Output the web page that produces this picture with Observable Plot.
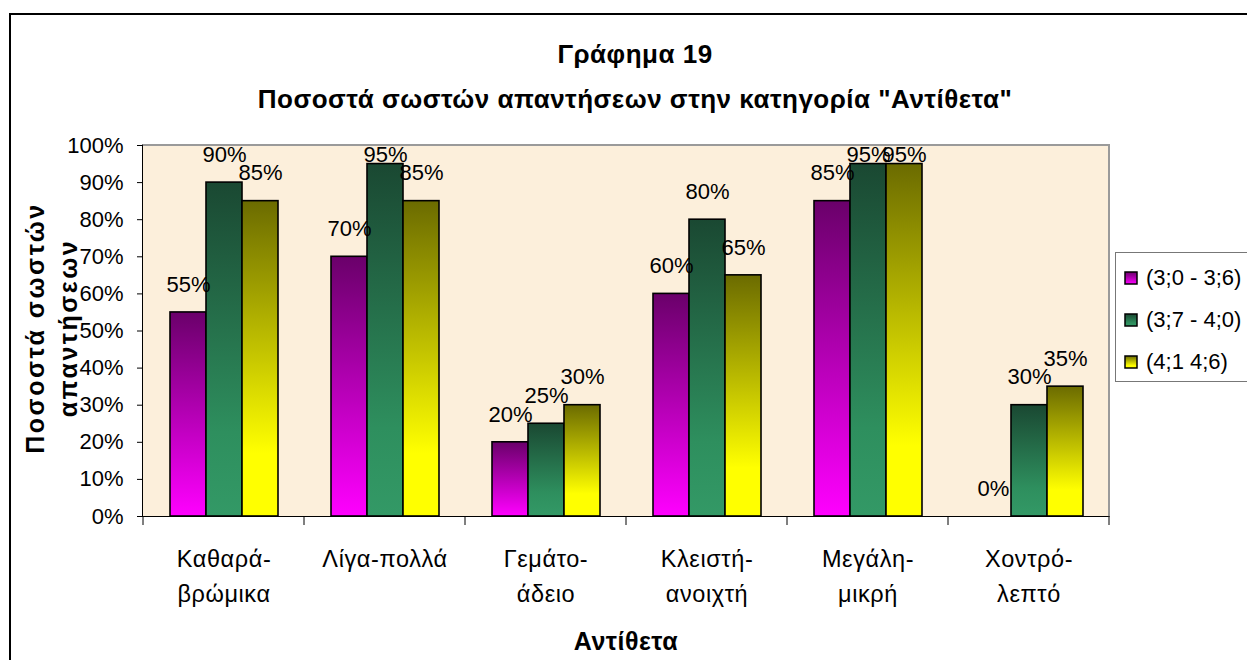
<!DOCTYPE html>
<html>
<head>
<meta charset="utf-8">
<script src="https://cdn.jsdelivr.net/npm/d3@7"></script>
<script src="https://cdn.jsdelivr.net/npm/@observablehq/plot@0.6"></script>
<style>
  html, body { margin: 0; padding: 0; background: #fff; }
  body { font-family: "Liberation Sans", Arial, sans-serif; color: #000; }
  #wrap { position: relative; width: 1247px; height: 660px; overflow: hidden; }
  #outer { position: absolute; left: 9px; top: 13px; width: 1400px; height: 800px;
           border-left: 2px solid #000; border-top: 2px solid #000; }
  #title { position: absolute; left: 0; width: 1270px; top: 32px; text-align: center;
           font-weight: bold; font-size: 26px; line-height: 45px; letter-spacing: 0.5px; }
  #bg { position: absolute; background: #FCEFDB; box-sizing: border-box;
        border-top: 2px solid #9a9a9a; border-right: 2px solid #9a9a9a;
        border-left: 1.5px solid #000; border-bottom: 1.5px solid #000; }
  #chart { position: absolute; left: 0; top: 0; }
  #chart svg g[aria-label="fx-axis tick label"] text { letter-spacing: 0.6px; }
  #ytitle { position: absolute; width: 400px; height: 70px; left: -146px; top: 293px;
            transform: rotate(-90deg); text-align: center; font-weight: bold;
            font-size: 25px; line-height: 33px; letter-spacing: 2.5px; }
  #xtitle { position: absolute; left: 526px; width: 200px; top: 627px; text-align: center;
            font-weight: bold; font-size: 25px; letter-spacing: 0.5px; }
  #legend { position: absolute; left: 1115px; top: 252px; width: 160px; height: 130px;
            border: 1.5px solid #777; box-sizing: border-box; font-size: 22px; }
  .li { position: absolute; left: 8px; height: 30px; display: flex; align-items: center; }
  .li svg { margin-right: 8px; }
</style>
</head>
<body>
<div id="wrap">
  <div id="outer"></div>
  <div id="bg"></div>
  <div id="chart"></div>
  <div id="title">Γράφημα 19<br>Ποσοστά σωστών απαντήσεων στην κατηγορία "Αντίθετα"</div>
  <div id="ytitle">Ποσοστά σωστών<br>απαντήσεων</div>
  <div id="xtitle">Αντίθετα</div>
  <div id="legend"></div>
</div>
<svg width="0" height="0" style="position:absolute">
  <defs>
    <linearGradient id="g0" x1="0" y1="0" x2="0" y2="1">
      <stop offset="0" stop-color="#6A006A"/><stop offset="1" stop-color="#FF00FF"/>
    </linearGradient>
    <linearGradient id="g1" x1="0" y1="0" x2="0" y2="1">
      <stop offset="0" stop-color="#1A4832"/><stop offset="0.75" stop-color="#2E8F5E"/><stop offset="1" stop-color="#339966"/>
    </linearGradient>
    <linearGradient id="g2" x1="0" y1="0" x2="0" y2="1">
      <stop offset="0" stop-color="#6B6B00"/><stop offset="0.8" stop-color="#FFFF00"/><stop offset="1" stop-color="#FFFF00"/>
    </linearGradient>
  </defs>
</svg>
<script>
const categories = ["Καθαρά-\nβρώμικα", "Λίγα-πολλά", "Γεμάτο-\nάδειο", "Κλειστή-\nανοιχτή", "Μεγάλη-\nμικρή", "Χοντρό-\nλεπτό"];
const series = ["(3;0 - 3;6)", "(3;7 - 4;0)", "(4;1 4;6)"];
const values_3_0_3_6 = [0.55, 0.70, 0.20, 0.60, 0.85, 0.00];
const values_3_7_4_0 = [0.90, 0.95, 0.25, 0.80, 0.95, 0.30];
const values_4_1_4_6 = [0.85, 0.85, 0.30, 0.65, 0.95, 0.35];
const yTicks = [0, 0.1, 0.2, 0.3, 0.4, 0.5, 0.6, 0.7, 0.8, 0.9, 1];
const gradients = ["url(#g0)", "url(#g1)", "url(#g2)"];

const seriesValues = [values_3_0_3_6, values_3_7_4_0, values_4_1_4_6];
const data = [];
categories.forEach((c, i) => series.forEach((s, j) => data.push({category: c, series: s, si: j, value: seriesValues[j][i]})));

const W = 1247, H = 660;
const mL = 143, mR = 138, mT = 145, mB = 144;

const chart = Plot.plot({
  width: W,
  height: H,
  marginLeft: mL,
  marginRight: mR,
  marginTop: mT,
  marginBottom: mB,
  style: {background: "transparent", color: "#000", fontFamily: "'Liberation Sans', Arial, sans-serif", fontSize: "22px"},
  fx: {domain: categories, padding: 0, label: null},
  x: {domain: series, paddingInner: 0, paddingOuter: 0.72, axis: null},
  y: {domain: [0, 1], ticks: yTicks, tickFormat: d3.format(".0%"), tickSize: 6, tickPadding: 14, label: null},
  marks: [
    Plot.axisFx({anchor: "bottom", tickSize: 0, tickPadding: 25, lineHeight: 1.5, fontSize: 23.5, label: null}),
    ...series.map((s, j) => Plot.barY(data.filter(d => d.si === j && d.value > 0), {
      fx: "category", x: "series", y: "value",
      fill: gradients[j], stroke: "#000", strokeWidth: 1.6
    })),
    Plot.text(data, {
      fx: "category", x: "series",
      y: d => Math.min(d.value + 0.075, 0.975),
      text: d => d3.format(".0%")(d.value),
      fontSize: 22, fill: "#000"
    })
  ]
});
document.getElementById("chart").appendChild(chart);

// background panel aligned to plot frame, from the library's scales
const yScale = chart.scale("y");
const fxScale = chart.scale("fx");
const frameTop = yScale.apply(1), frameBottom = yScale.apply(0);
const frameLeft = fxScale.apply(categories[0]);
const frameRight = fxScale.apply(categories[categories.length - 1]) + fxScale.bandwidth;
const bg = document.getElementById("bg");
bg.style.left = (frameLeft - 1) + "px";
bg.style.top = (frameTop - 1) + "px";
bg.style.width = (frameRight - frameLeft + 2) + "px";
bg.style.height = (frameBottom - frameTop + 2) + "px";

// category boundary ticks below the axis
const svgSel = d3.select(chart);
const edges = categories.map(c => fxScale.apply(c)).concat([frameRight]);
svgSel.append("g").selectAll("line").data(edges).join("line")
  .attr("x1", d => d).attr("x2", d => d)
  .attr("y1", frameBottom).attr("y2", frameBottom + 9)
  .attr("stroke", "#000").attr("stroke-width", 1);

// legend
const legend = document.getElementById("legend");
series.forEach((s, j) => {
  const row = document.createElement("div");
  row.className = "li";
  row.style.top = (10 + j * 42) + "px";
  row.innerHTML = `<svg width="14" height="14"><rect x="1" y="1" width="12" height="12" fill="${gradients[j]}" stroke="#000" stroke-width="1.5"/></svg><span>${s}</span>`;
  legend.appendChild(row);
});
</script>
</body>
</html>
